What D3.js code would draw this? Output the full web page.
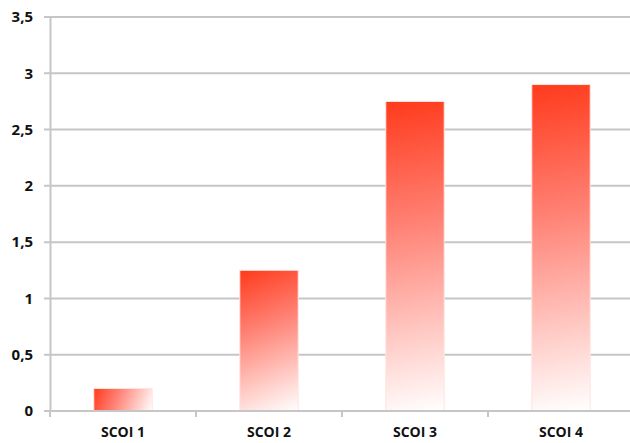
<!DOCTYPE html>
<html>
<head>
<meta charset="utf-8">
<script src="https://cdn.jsdelivr.net/npm/d3@7"></script>
<style>
  body { margin: 0; background: #fff; }
  .tick text { font-family: "Open Sans", "Liberation Sans", sans-serif; font-weight: bold; fill: #111; }
</style>
</head>
<body>
<svg id="chart"></svg>
<script>
const categories = ["SCOI 1", "SCOI 2", "SCOI 3", "SCOI 4"];
const values = [0.2, 1.25, 2.75, 2.9];
const yTicks = [0, 0.5, 1, 1.5, 2, 2.5, 3, 3.5];
const yLabels = ["0", "0,5", "1", "1,5", "2", "2,5", "3", "3,5"];

const svgWidth = 630, svgHeight = 443;
const plotLeft = 50, plotRight = 634, plotTop = 17, plotBottom = 411;

const svg = d3.select("#chart")
    .attr("width", svgWidth)
    .attr("height", svgHeight);

const x = d3.scaleBand()
    .domain(categories)
    .range([plotLeft, plotRight])
    .paddingInner(0.6)
    .paddingOuter(0.3);

const y = d3.scaleLinear()
    .domain([0, 3.5])
    .range([plotBottom, plotTop]);

// one gradient per bar, running from its top-left to its bottom-right corner
const grads = svg.append("defs")
    .selectAll("linearGradient")
    .data(values)
    .enter()
    .append("linearGradient")
    .attr("id", (d, i) => "barFill" + i)
    .attr("gradientUnits", "userSpaceOnUse")
    .attr("x1", (d, i) => x(categories[i]))
    .attr("y1", d => y(d))
    .attr("x2", (d, i) => x(categories[i]) + x.bandwidth())
    .attr("y2", y(0));
grads.append("stop").attr("offset", "0%").attr("stop-color", "#ff3a1c");
grads.append("stop").attr("offset", "40%").attr("stop-color", "#ff8275");
grads.append("stop").attr("offset", "100%").attr("stop-color", "#ffffff");

// gridlines
svg.append("g")
    .selectAll("line")
    .data(yTicks)
    .enter()
    .append("line")
    .attr("x1", plotLeft - 6)
    .attr("x2", svgWidth)
    .attr("y1", d => y(d))
    .attr("y2", d => y(d))
    .attr("stroke", "#c6c6c6")
    .attr("stroke-width", 2);

// y axis
const y_axis = d3.axisLeft(y)
    .tickValues(yTicks)
    .tickFormat((d, i) => yLabels[i])
    .tickSize(0)
    .tickPadding(17);

const yg = svg.append("g")
    .attr("transform", "translate(" + plotLeft + ",0)")
    .call(y_axis);
yg.select(".domain").attr("stroke", "#c6c6c6").attr("stroke-width", 2);
yg.selectAll(".tick text").attr("font-size", 15);

// bars
svg.selectAll("rect.bar")
    .data(values)
    .enter()
    .append("rect")
    .attr("class", "bar")
    .attr("x", (d, i) => x(categories[i]))
    .attr("y", d => y(d))
    .attr("width", x.bandwidth())
    .attr("height", d => y(0) - y(d))
    .attr("fill", (d, i) => "url(#barFill" + i + ")")
    .attr("stroke", "#ffe4e0")
    .attr("stroke-width", 1);

// x axis
const x_axis = d3.axisBottom(x)
    .tickSize(0)
    .tickPadding(16);

const xg = svg.append("g")
    .attr("transform", "translate(0," + plotBottom + ")")
    .call(x_axis);
xg.select(".domain").remove();
xg.selectAll(".tick text").attr("font-size", 14);

// category boundary ticks
svg.append("g")
    .selectAll("line")
    .data(d3.range(categories.length + 1))
    .enter()
    .append("line")
    .attr("x1", i => plotLeft + i * x.step())
    .attr("x2", i => plotLeft + i * x.step())
    .attr("y1", plotBottom)
    .attr("y2", plotBottom + 6)
    .attr("stroke", "#c6c6c6")
    .attr("stroke-width", 2);

svg.append("line")
    .attr("x1", plotLeft - 6).attr("x2", svgWidth)
    .attr("y1", plotBottom).attr("y2", plotBottom)
    .attr("stroke", "#c6c6c6")
    .attr("stroke-width", 2);
</script>
</body>
</html>
